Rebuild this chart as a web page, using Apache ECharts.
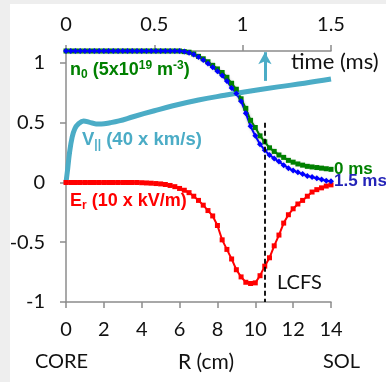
<!DOCTYPE html>
<html>
<head>
<meta charset="utf-8">
<script src="https://cdn.jsdelivr.net/npm/echarts@6/dist/echarts.min.js"></script>
<style>
  html, body { margin: 0; padding: 0; background: #fff; }
  #chart { width: 386px; height: 382px; }
</style>
</head>
<body>
<div id="chart"></div>
<script>
// radial position (cm), shared by the three profiles
const radius = [0, 0.25, 0.5, 0.75, 1, 1.25, 1.5, 1.75, 2, 2.25, 2.5, 2.75, 3, 3.25, 3.5, 3.75,
  4, 4.25, 4.5, 4.75, 5, 5.25, 5.5, 5.75, 6, 6.25, 6.5, 6.75, 7, 7.25, 7.5, 7.75, 8, 8.25, 8.5, 8.75,
  9, 9.25, 9.5, 9.75, 10, 10.25, 10.5, 10.75, 11, 11.25, 11.5, 11.75, 12, 12.25, 12.5, 12.75,
  13, 13.25, 13.5, 13.75, 14];

// n0 at t = 0 ms
const density0ms = [1.1, 1.1, 1.1, 1.1, 1.1, 1.1, 1.1, 1.1, 1.1, 1.1, 1.1, 1.1, 1.1, 1.1, 1.1, 1.1,
  1.1, 1.1, 1.1, 1.1, 1.1, 1.1, 1.1, 1.1, 1.1,
  1.095, 1.09, 1.075, 1.055, 1.035, 1.01, 0.98, 0.95, 0.92, 0.88, 0.83, 0.78, 0.7, 0.62, 0.52,
  0.46, 0.39, 0.34, 0.29, 0.26, 0.23, 0.21, 0.185, 0.17, 0.155, 0.145, 0.135, 0.13, 0.125, 0.12,
  0.115, 0.11];

// n0 at t = 1.5 ms
const density15ms = [1.1, 1.1, 1.1, 1.1, 1.1, 1.1, 1.1, 1.1, 1.1, 1.1, 1.1, 1.1, 1.1, 1.1, 1.1, 1.1,
  1.1, 1.1, 1.1, 1.1, 1.1, 1.1, 1.1, 1.1, 1.1,
  1.095, 1.085, 1.07, 1.05, 1.025, 0.995, 0.965, 0.93, 0.895, 0.85, 0.79, 0.745, 0.68, 0.58, 0.47,
  0.39, 0.32, 0.27, 0.23, 0.2, 0.175, 0.145, 0.12, 0.1, 0.085, 0.07, 0.055, 0.045, 0.035, 0.025,
  0.015, 0.01];

// Er
const radialField = [0, 0, 0, 0, 0, 0, 0, 0, 0, 0, 0, 0, 0, 0, 0, 0,
  -0.002, -0.004, -0.006, -0.009, -0.012, -0.017, -0.025, -0.035, -0.05, -0.065, -0.085, -0.115,
  -0.15, -0.19, -0.235, -0.28, -0.36, -0.48, -0.56, -0.64, -0.73, -0.79, -0.835, -0.845, -0.84,
  -0.78, -0.7, -0.63, -0.53, -0.44, -0.34, -0.27, -0.22, -0.18, -0.15, -0.115, -0.08, -0.06,
  -0.045, -0.03, -0.02];

// V|| versus time (top axis)
const vTime = [0, 0.01, 0.02, 0.035, 0.05, 0.07, 0.1, 0.13, 0.17, 0.2, 0.25, 0.3, 0.38, 0.5, 0.6,
  0.75, 0.9, 1.0, 1.2, 1.35, 1.5];
const vParallel = [0, 0.12, 0.25, 0.38, 0.45, 0.49, 0.515, 0.505, 0.49, 0.49, 0.5, 0.515, 0.55,
  0.6, 0.64, 0.69, 0.73, 0.755, 0.8, 0.83, 0.865];

const yTicks = [-1, -0.5, 0, 0.5, 1];
const lcfsR = 10.5;
const arrowTime = 1.126;

const GREEN = "#008000";
const BLUE = "#0000ff";
const RED = "#ff0000";
const LIGHTBLUE = "#4bacc6";
const AXIS = "#8c8c8c";
const tickFont = { fontFamily: "Lato", fontSize: 20, color: "#111" };
const boldFont = "Liberation Sans";

const zip = (xs, ys) => xs.map((x, i) => [x, ys[i]]);

const chart = echarts.init(document.getElementById("chart"));

const option = {
  animation: false,
  backgroundColor: "#fff",
  grid: { left: 66, right: 55, top: 51, bottom: 80 },
  xAxis: [
    {
      type: "value",
      position: "bottom",
      min: 0,
      max: 14,
      interval: 2,
      axisLine: { show: true, onZero: false, lineStyle: { color: AXIS, width: 1.5 } },
      axisTick: { show: true, inside: false, length: 6, lineStyle: { color: AXIS, width: 1.5 } },
      axisLabel: { ...tickFont, margin: 18 },
      splitLine: { show: false },
    },
    {
      type: "value",
      position: "top",
      min: 0,
      max: 1.5,
      interval: 0.5,
      axisLine: { show: true, onZero: false, lineStyle: { color: AXIS, width: 1.5 } },
      axisTick: { show: true, inside: false, length: 6, lineStyle: { color: AXIS, width: 1.5 } },
      axisLabel: { ...tickFont, margin: 16 },
      splitLine: { show: false },
    },
  ],
  yAxis: {
    type: "value",
    min: -1,
    max: 1.1,
    interval: 0.5,
    axisLine: { show: true, onZero: false, lineStyle: { color: AXIS, width: 1.5 } },
    axisTick: { show: true, length: 6, customValues: yTicks, lineStyle: { color: AXIS, width: 1.5 } },
    axisLabel: { ...tickFont, margin: 21, customValues: yTicks },
    splitLine: { show: false },
  },
  series: [
    {
      name: "Er",
      type: "line",
      data: zip(radius, radialField),
      symbol: "rect",
      symbolSize: 5,
      lineStyle: { color: RED, width: 2 },
      itemStyle: { color: RED },
      markLine: {
        silent: true,
        symbol: "none",
        label: { show: false },
        lineStyle: { color: "#000", type: [5, 3], width: 1.8 },
        data: [[{ coord: [lcfsR, 0.5] }, { coord: [lcfsR, -1] }]],
      },
    },
    {
      name: "n0 0 ms",
      type: "line",
      data: zip(radius, density0ms),
      symbol: "rect",
      symbolSize: 5,
      lineStyle: { color: GREEN, width: 2, shadowColor: "rgba(0,0,0,0.25)", shadowBlur: 3 },
      itemStyle: { color: GREEN },
      endLabel: {
        show: true,
        formatter: "0 ms",
        color: GREEN,
        fontFamily: boldFont,
        fontWeight: "bold",
        fontSize: 17,
        distance: 3,
      },
    },
    {
      name: "n0 1.5 ms",
      type: "line",
      data: zip(radius, density15ms),
      symbol: "diamond",
      symbolSize: 6,
      lineStyle: { color: BLUE, width: 2, shadowColor: "rgba(0,0,0,0.25)", shadowBlur: 3 },
      itemStyle: { color: BLUE },
      endLabel: {
        show: true,
        formatter: "1.5 ms",
        color: "#2424b8",
        fontFamily: boldFont,
        fontWeight: "bold",
        fontSize: 17,
        distance: 3,
      },
    },
    {
      name: "V||",
      type: "line",
      xAxisIndex: 1,
      data: zip(vTime, vParallel),
      smooth: 0.4,
      showSymbol: false,
      lineStyle: { color: LIGHTBLUE, width: 5 },
      itemStyle: { color: LIGHTBLUE },
      markLine: {
        silent: true,
        symbol: ["none", "arrow"],
        symbolSize: [10, 12],
        label: { show: false },
        lineStyle: { color: LIGHTBLUE, type: "solid", width: 3 },
        data: [[{ coord: [arrowTime, 0.85] }, { coord: [arrowTime, 1.09] }]],
      },
    },
  ],
  graphic: [
    {
      type: "rect",
      z: -20,
      silent: true,
      shape: { x: 0, y: 0, width: 386, height: 382 },
      style: { fill: "#eeeeee" },
    },
    {
      type: "rect",
      z: -19,
      silent: true,
      shape: { x: 10, y: 4, width: 376, height: 378 },
      style: { fill: "#ffffff" },
    },
    {
      type: "text",
      left: 70,
      top: 60,
      style: {
        text: "{a|n}{s|0}{a| (5x10}{p|19}{a| m}{p|-3}{a|)}",
        rich: {
          a: { fill: GREEN, fontFamily: boldFont, fontWeight: "bold", fontSize: 18 },
          s: { fill: GREEN, fontFamily: boldFont, fontWeight: "bold", fontSize: 12, padding: [9, 0, 0, 0] },
          p: { fill: GREEN, fontFamily: boldFont, fontWeight: "bold", fontSize: 12, padding: [0, 0, 8, 0] },
        },
      },
    },
    {
      type: "text",
      left: 82,
      top: 130,
      style: {
        text: "{a|V}{s|||}{a| (40 x km/s)}",
        rich: {
          a: { fill: LIGHTBLUE, fontFamily: boldFont, fontWeight: "bold", fontSize: 18.5 },
          s: { fill: LIGHTBLUE, fontFamily: boldFont, fontWeight: "bold", fontSize: 12, padding: [10, 0, 0, 0] },
        },
      },
    },
    {
      type: "text",
      left: 70,
      top: 192,
      style: {
        text: "{a|E}{s|r}{a| (10 x kV/m)}",
        rich: {
          a: { fill: RED, fontFamily: boldFont, fontWeight: "bold", fontSize: 18 },
          s: { fill: RED, fontFamily: boldFont, fontWeight: "bold", fontSize: 12, padding: [10, 0, 0, 0] },
        },
      },
    },
    {
      type: "text",
      left: 277,
      top: 273,
      style: { text: "LCFS", fill: "#111", fontFamily: "Lato", fontSize: 20 },
    },
    {
      type: "text",
      left: 291,
      top: 51,
      style: { text: "time (ms)", fill: "#111", fontFamily: "Lato", fontSize: 22 },
    },
    {
      type: "text",
      left: 35,
      top: 352,
      style: { text: "CORE", fill: "#111", fontFamily: "Lato", fontSize: 20 },
    },
    {
      type: "text",
      left: 178,
      top: 352,
      style: { text: "R (cm)", fill: "#111", fontFamily: "Lato", fontSize: 21 },
    },
    {
      type: "text",
      left: 323,
      top: 352,
      style: { text: "SOL", fill: "#111", fontFamily: "Lato", fontSize: 20 },
    },
  ],
};

chart.setOption(option);
</script>
</body>
</html>
